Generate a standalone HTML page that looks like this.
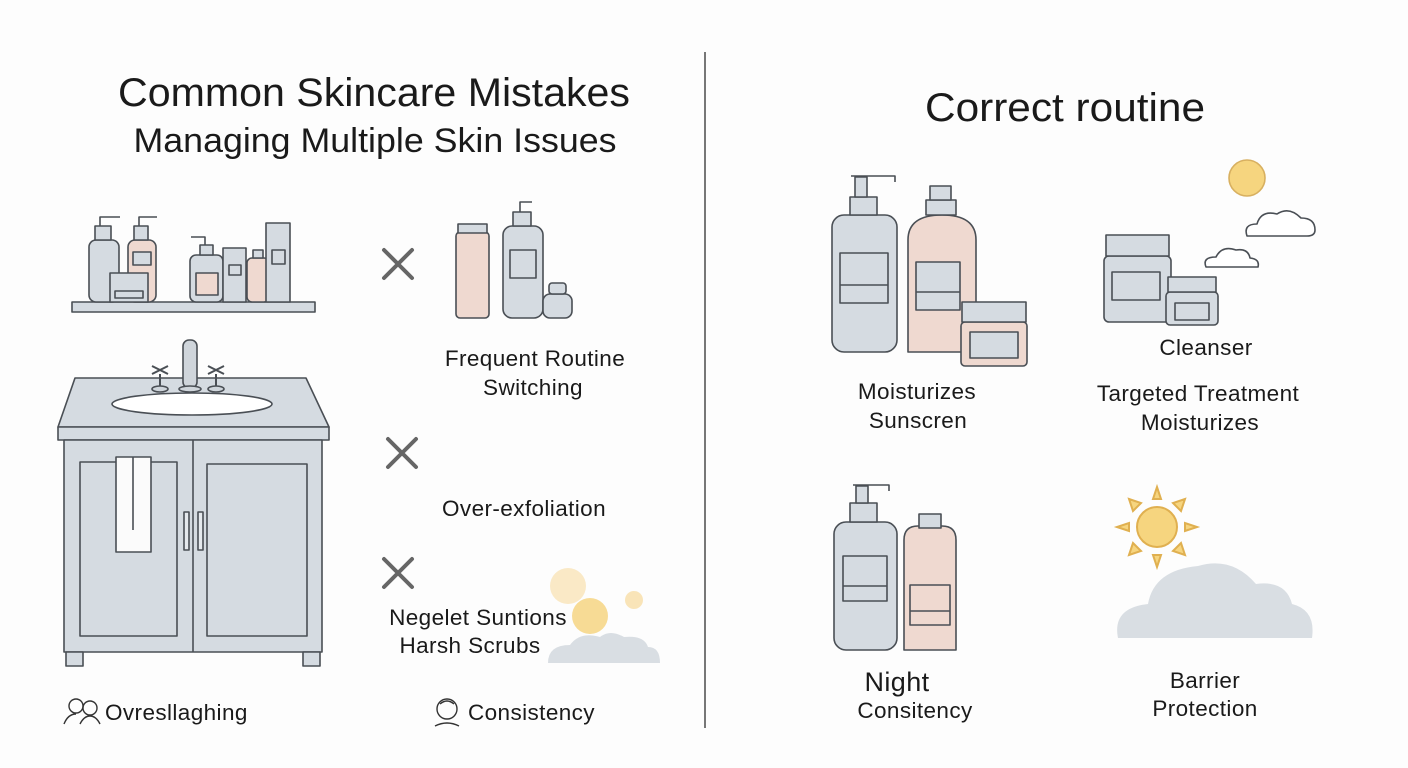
<!DOCTYPE html>
<html><head><meta charset="utf-8"><style>
html,body{margin:0;padding:0;background:#fff;}
svg{display:block;font-family:"Liberation Sans","DejaVu Sans",sans-serif;}
</style></head><body>
<svg width="1408" height="768" viewBox="0 0 1408 768" xmlns="http://www.w3.org/2000/svg">
<rect width="1408" height="768" fill="#fdfdfd"/>
<g fill="#1a1a1a" text-anchor="middle">
<text x="374" y="106" font-size="40" textLength="512" lengthAdjust="spacingAndGlyphs">Common Skincare Mistakes</text>
<text x="375" y="152" font-size="34" textLength="483" lengthAdjust="spacingAndGlyphs">Managing Multiple Skin Issues</text>
<text x="1065" y="121" font-size="40" textLength="280" lengthAdjust="spacingAndGlyphs">Correct routine</text>
</g>
<line x1="705" y1="52" x2="705" y2="728" stroke="#777" stroke-width="2"/>
<g stroke="#4a4f55" stroke-width="1.6" stroke-linejoin="round">
<rect x="72" y="302" width="243" height="10" fill="#d5dbe1"/>
<rect x="89" y="240" width="30" height="62" rx="7" fill="#d5dbe1"/><rect x="95" y="226" width="16" height="14" fill="#d5dbe1"/><path d="M100 226v-9h20" fill="none"/>
<rect x="128" y="240" width="28" height="62" rx="7" fill="#efd9d0"/><rect x="134" y="226" width="14" height="14" fill="#d5dbe1"/><path d="M139 226v-9h18" fill="none"/>
<rect x="110" y="273" width="38" height="29" fill="#d5dbe1"/><rect x="115" y="291" width="28" height="7" fill="#d5dbe1"/>
<rect x="133" y="252" width="18" height="13" fill="#d5dbe1"/>
<rect x="190" y="255" width="33" height="47" rx="6" fill="#d5dbe1"/><rect x="200" y="245" width="13" height="10" fill="#d5dbe1"/><path d="M205 245v-8h-14" fill="none"/><rect x="196" y="273" width="22" height="22" fill="#efd9d0"/>
<rect x="223" y="248" width="23" height="54" fill="#d5dbe1"/><rect x="229" y="265" width="12" height="10" fill="#d5dbe1"/>
<rect x="247" y="258" width="22" height="44" rx="5" fill="#efd9d0"/><rect x="253" y="250" width="10" height="8" fill="#d5dbe1"/>
<rect x="266" y="223" width="24" height="79" fill="#d5dbe1"/><rect x="272" y="250" width="13" height="14" fill="#d5dbe1"/>
<path d="M75 378H306L329 427H58Z" fill="#d5dbe1"/>
<rect x="58" y="427" width="271" height="13" fill="#d5dbe1"/>
<ellipse cx="192" cy="404" rx="80" ry="11" fill="#fff"/>
<rect x="183" y="340" width="14" height="48" rx="6" fill="#cfd5db"/>
<ellipse cx="190" cy="389" rx="11" ry="3" fill="#cfd5db"/>
<path d="M160 388v-14M152 366l16 8M168 366l-16 8M216 388v-14M208 366l16 8M224 366l-16 8" fill="none" stroke-width="2"/>
<ellipse cx="160" cy="389" rx="8" ry="3" fill="#cfd5db"/><ellipse cx="216" cy="389" rx="8" ry="3" fill="#cfd5db"/>
<rect x="64" y="440" width="258" height="212" fill="#d5dbe1"/>
<line x1="193" y1="440" x2="193" y2="652"/>
<rect x="80" y="462" width="97" height="174" fill="none"/><rect x="207" y="464" width="100" height="172" fill="none"/>
<rect x="184" y="512" width="5" height="38" fill="#e5e9ed"/><rect x="198" y="512" width="5" height="38" fill="#e5e9ed"/>
<rect x="116" y="457" width="35" height="95" fill="#fbfbfb"/><line x1="133" y1="457" x2="133" y2="530"/>
<rect x="66" y="652" width="17" height="14" fill="#d5dbe1"/><rect x="303" y="652" width="17" height="14" fill="#d5dbe1"/>
<rect x="456" y="232" width="33" height="86" rx="4" fill="#efd9d0"/><rect x="458" y="224" width="29" height="9" fill="#d5dbe1"/>
<rect x="503" y="226" width="40" height="92" rx="9" fill="#d5dbe1"/><rect x="513" y="212" width="18" height="14" fill="#d5dbe1"/><path d="M520 212v-10h12" fill="none"/><rect x="510" y="250" width="26" height="28" fill="#d5dbe1"/>
<rect x="543" y="294" width="29" height="24" rx="7" fill="#d5dbe1"/><rect x="549" y="283" width="17" height="11" rx="3" fill="#d5dbe1"/>
<rect x="832" y="215" width="65" height="137" rx="12" fill="#d5dbe1"/><rect x="850" y="197" width="27" height="18" fill="#d5dbe1"/><rect x="855" y="177" width="12" height="20" fill="#d5dbe1"/><path d="M851 176h44v6" fill="none"/>
<rect x="840" y="253" width="48" height="50" fill="#d5dbe1"/><line x1="840" y1="285" x2="888" y2="285"/>
<path d="M908 352V240q0-25 34-25t34 25v112Z" fill="#efd9d0"/><rect x="926" y="200" width="30" height="15" fill="#d5dbe1"/><rect x="930" y="186" width="21" height="14" fill="#d5dbe1"/>
<rect x="916" y="262" width="44" height="48" fill="#d5dbe1"/><line x1="916" y1="292" x2="960" y2="292"/>
<rect x="961" y="322" width="66" height="44" rx="4" fill="#efd9d0"/><rect x="962" y="302" width="64" height="20" fill="#d5dbe1"/><rect x="970" y="332" width="48" height="26" fill="#d5dbe1"/>
<rect x="1104" y="256" width="67" height="66" rx="5" fill="#d5dbe1"/><rect x="1106" y="235" width="63" height="21" fill="#d5dbe1"/><rect x="1112" y="272" width="48" height="28" fill="#d5dbe1"/>
<rect x="1166" y="292" width="52" height="33" rx="4" fill="#d5dbe1"/><rect x="1168" y="277" width="48" height="15" fill="#d5dbe1"/><rect x="1175" y="303" width="34" height="17" fill="#d5dbe1"/>
<circle cx="1247" cy="178" r="18" fill="#f6d57f" stroke="#d8b060"/>
<path d="M1247 236q-4-12 10-12q4-14 20-10q12-8 24 4q14 0 14 12q0 6-8 6h-56q-4 0-4-0Z" fill="#fff"/>
<path d="M1206 267q-4-10 10-10q6-12 20-7q12-2 14 8q10 1 8 9Z" fill="#fff"/>
<rect x="834" y="522" width="63" height="128" rx="12" fill="#d5dbe1"/><rect x="850" y="503" width="27" height="19" fill="#d5dbe1"/><rect x="856" y="486" width="12" height="17" fill="#d5dbe1"/><path d="M853 485h36v6" fill="none"/>
<rect x="843" y="556" width="44" height="45" fill="#d5dbe1"/><line x1="843" y1="586" x2="887" y2="586"/>
<path d="M904 650V540q0-14 14-14h24q14 0 14 14v110Z" fill="#efd9d0"/><rect x="919" y="514" width="22" height="14" fill="#d5dbe1"/>
<rect x="910" y="585" width="40" height="40" fill="#efd9d0"/><line x1="910" y1="611" x2="950" y2="611"/>
</g>
<g stroke="#666" stroke-width="4" stroke-linecap="round">
<path d="M384 250l28 28M412 250l-28 28"/><path d="M388 439l28 28M416 439l-28 28"/><path d="M384 559l28 28M412 559l-28 28"/>
</g>
<g stroke="#e0b050" stroke-width="2" fill="#f6d57f">
<g transform="translate(1157,527)">
<path d="M0-40l4 12h-8ZM0 40l4-12h-8ZM-40 0l12 4v-8ZM40 0l-12 4v-8ZM28-28l-4 12-8-8ZM-28 28l4-12 8 8ZM-28-28l12 4-8 8ZM28 28l-12-4 8-8Z"/>
<circle r="20"/></g></g>
<path d="M1118 638q-6-30 30-34q6-34 50-38q34-10 58 18q30-4 36 20q24 6 20 34Z" fill="#d9dee3"/>
<circle cx="568" cy="586" r="18" fill="#f9e4b8" opacity=".8"/><circle cx="634" cy="600" r="9" fill="#f9e4b8"/>
<circle cx="590" cy="616" r="18" fill="#f5d27a" opacity=".8"/>
<path d="M548 663q0-18 22-18q10-14 30-8q10-8 24 0q20-2 24 10q12 0 12 16Z" fill="#d9dee3"/>
<g fill="#1a1a1a" font-size="22.5" text-anchor="middle" letter-spacing="0.4">
<text x="535" y="366">Frequent Routine</text><text x="533" y="395">Switching</text>
<text x="524" y="516">Over-exfoliation</text>
<text x="478" y="625">Negelet Suntions</text><text x="470" y="653">Harsh Scrubs</text>
<text x="917" y="399">Moisturizes</text><text x="918" y="428">Sunscren</text>
<text x="1206" y="355">Cleanser</text>
<text x="1198" y="401">Targeted Treatment</text><text x="1200" y="430">Moisturizes</text>
<text x="897" y="691" font-size="27">Night</text><text x="915" y="718">Consitency</text>
<text x="1205" y="688">Barrier</text><text x="1205" y="716">Protection</text>
</g>
<g fill="#1a1a1a" font-size="22.5" letter-spacing="0.4">
<text x="105" y="720">Ovresllaghing</text><text x="468" y="720">Consistency</text>
</g>
<g fill="none" stroke="#333" stroke-width="1.4">
<circle cx="76" cy="706" r="7"/><circle cx="90" cy="708" r="7"/><path d="M64 724q4-10 12-10M80 724q4-8 10-8t10 8"/>
<circle cx="447" cy="709" r="10"/><path d="M435 726q12-6 24 0M440 704q7-6 14 0"/>
</g>
</svg>
</body></html>
